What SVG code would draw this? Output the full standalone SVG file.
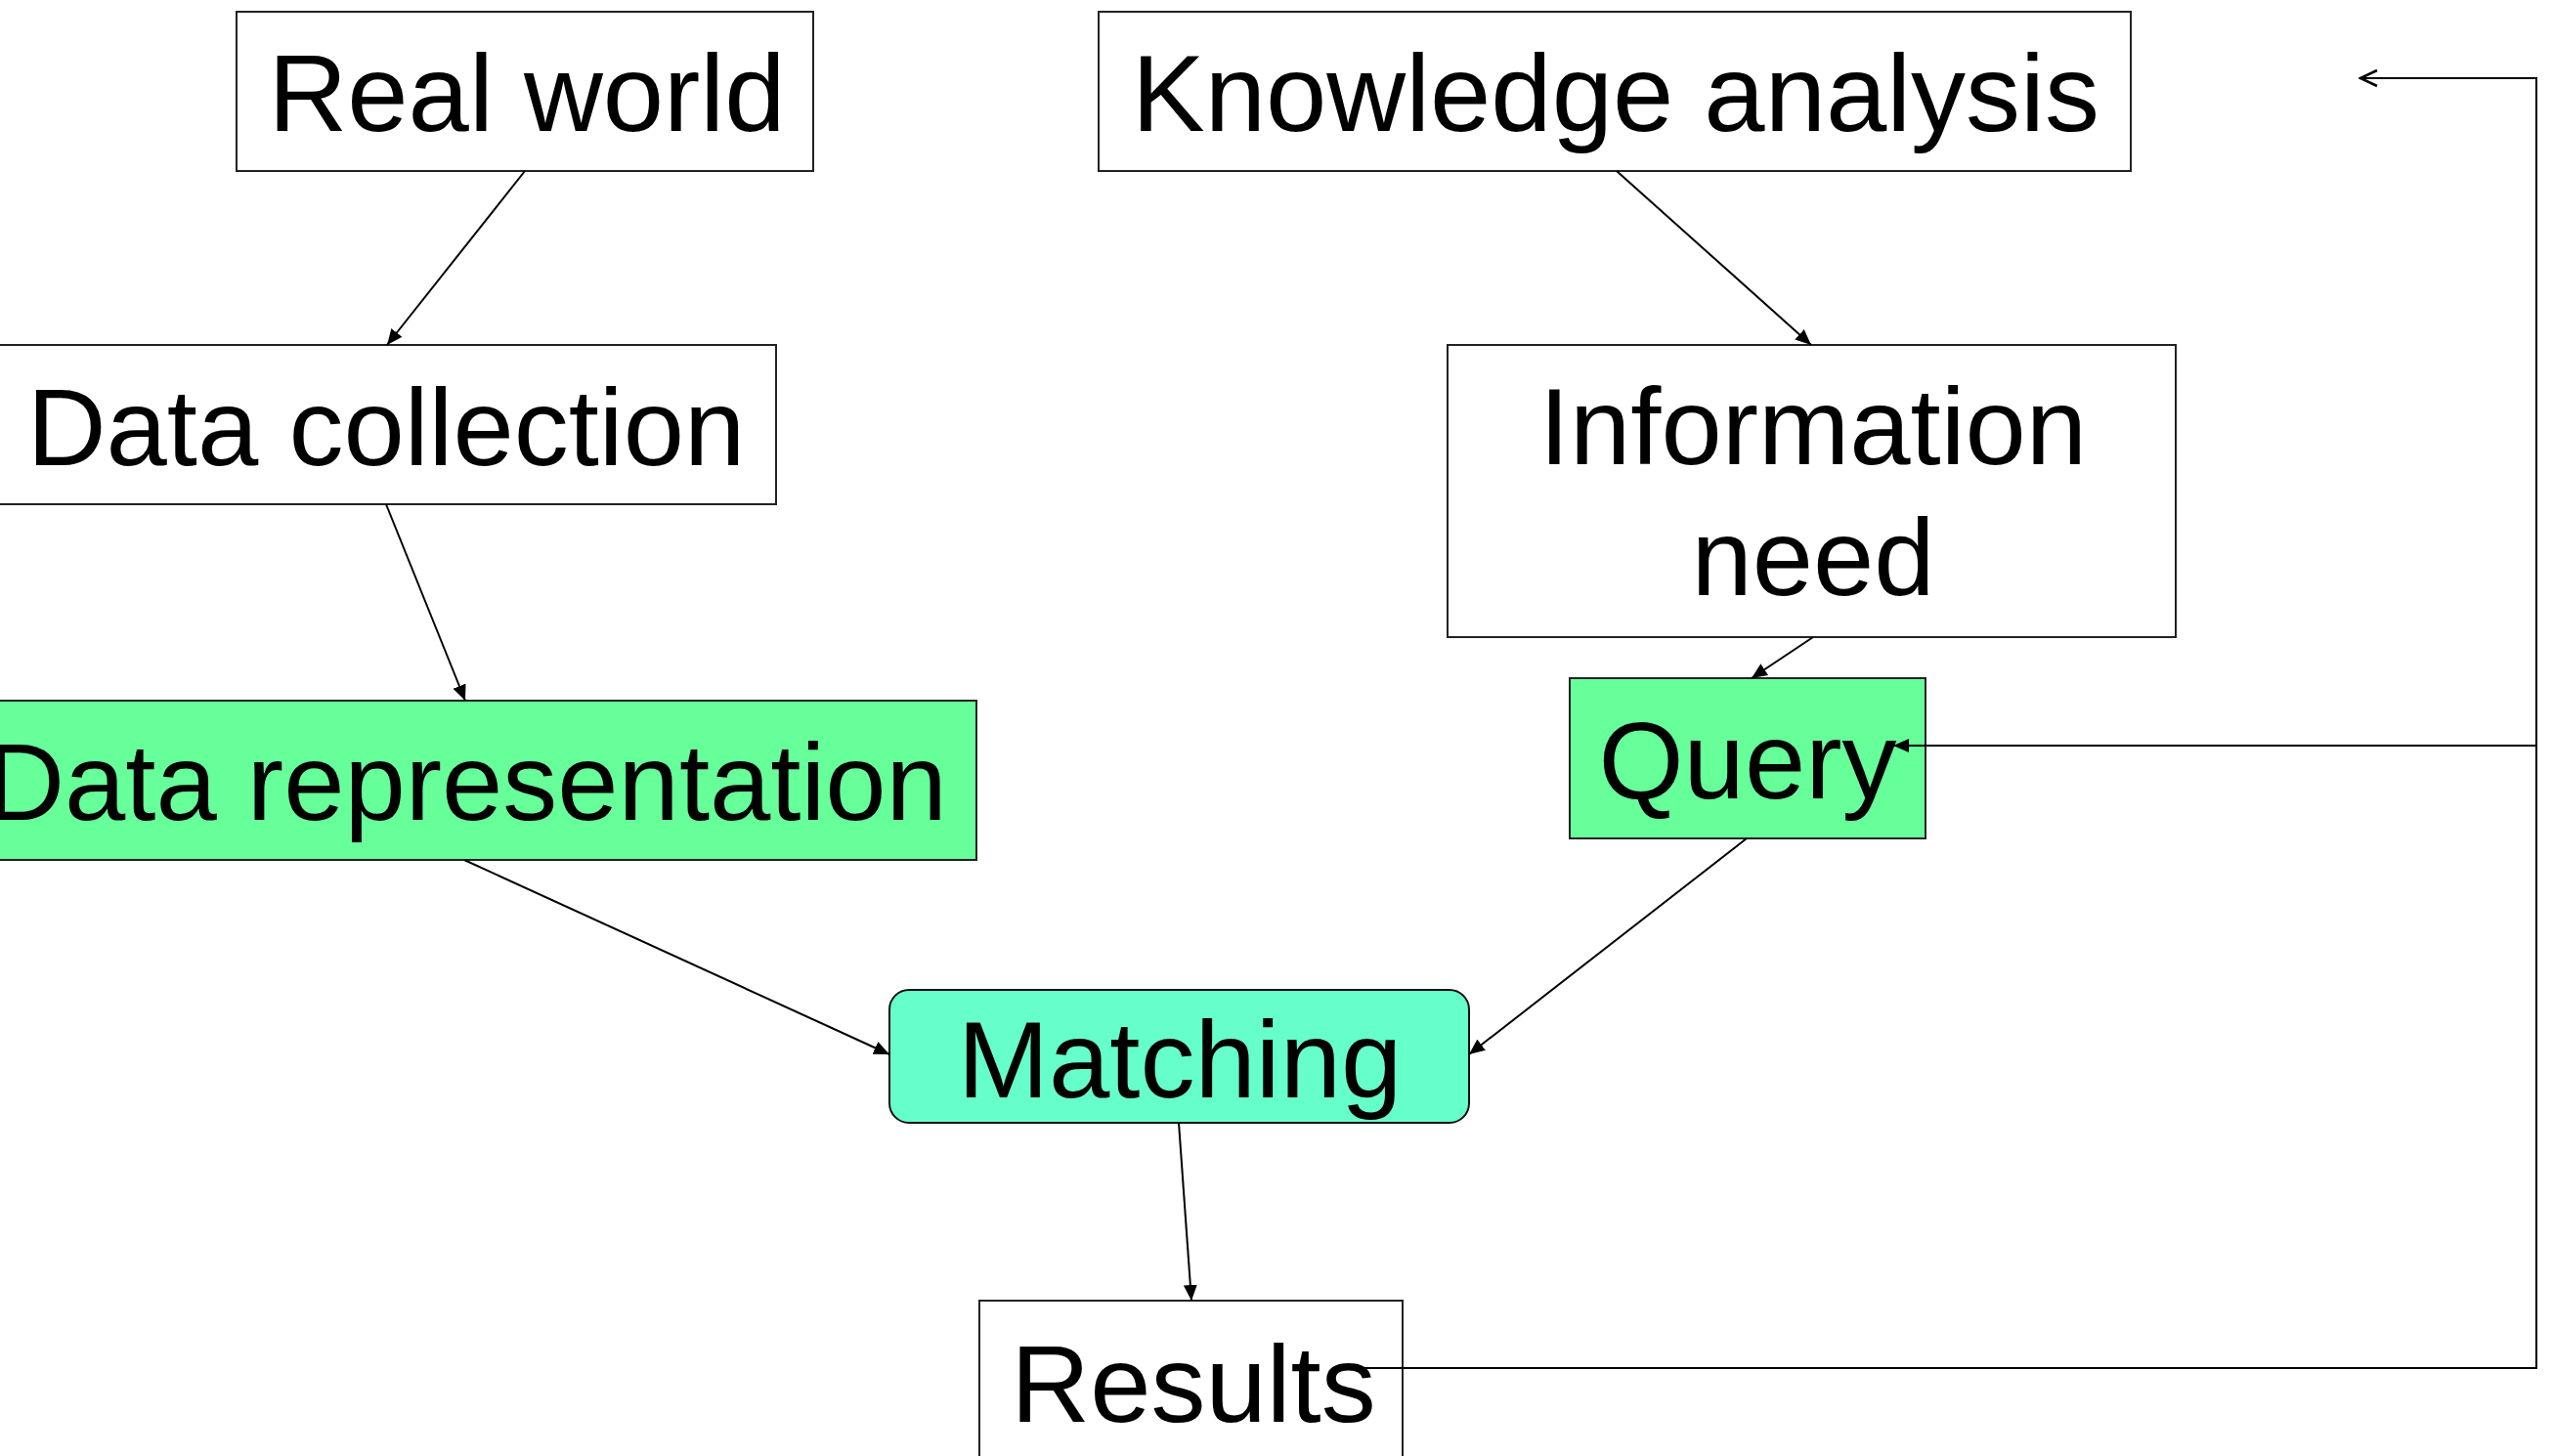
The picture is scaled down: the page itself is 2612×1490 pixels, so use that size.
<svg xmlns="http://www.w3.org/2000/svg" width="2612" height="1490" viewBox="0 0 2612 1490">
<style>
.box{fill:#ffffff;stroke:#222;stroke-width:2}
.green{fill:#66FF99;stroke:#222;stroke-width:2}
.teal{fill:#66FFCC;stroke:#111;stroke-width:2}
.lbl{font-family:"Liberation Sans",Arial,sans-serif;font-size:112px;fill:#000;text-anchor:middle}
.edge{stroke:#000;stroke-width:2;fill:none}
</style>
<defs>
<marker id="ah" markerWidth="16" markerHeight="14" refX="16" refY="7" orient="auto" markerUnits="userSpaceOnUse">
<path d="M0,0 L16,7 L0,14 Z" fill="#000"/>
</marker>
<marker id="open" markerWidth="20" markerHeight="20" refX="18" refY="10" orient="auto" markerUnits="userSpaceOnUse">
<path d="M1,2 L18,10 L1,18" fill="none" stroke="#000" stroke-width="2.5"/>
</marker>
</defs>
<rect width="2612" height="1490" fill="#ffffff"/>
<g id="real-world"><rect class="box" x="242" y="12" width="590" height="163"/><text class="lbl" x="539" y="134">Real world</text></g>
<g id="knowledge-analysis"><rect class="box" x="1124" y="12" width="1056" height="163"/><text class="lbl" x="1653" y="134">Knowledge analysis</text></g>
<g id="data-collection"><rect class="box" x="-5" y="353" width="799" height="163"/><text class="lbl" x="395" y="476">Data collection</text></g>
<g id="information-need"><rect class="box" x="1481" y="353" width="745" height="299"/><text class="lbl" x="1855" y="475">Information</text><text class="lbl" x="1855" y="609">need</text></g>
<g id="data-representation"><rect class="green" x="-45" y="717" width="1044" height="163"/><text class="lbl" x="477" y="839">Data representation</text></g>
<g id="query"><rect class="green" x="1606" y="694" width="364" height="164"/><text class="lbl" x="1788" y="817">Query</text></g>
<g id="matching"><rect class="teal" x="910" y="1013" width="593" height="136" rx="20" ry="20"/><text class="lbl" x="1207" y="1123">Matching</text></g>
<g id="results"><rect class="box" x="1002" y="1331" width="433" height="175"/><text class="lbl" x="1221" y="1455">Results</text></g>
<g id="connectors">
<line class="edge" x1="537" y1="175" x2="396" y2="353" marker-end="url(#ah)"/>
<line class="edge" x1="395" y1="516" x2="476" y2="717" marker-end="url(#ah)"/>
<line class="edge" x1="475" y1="880" x2="910" y2="1079" marker-end="url(#ah)"/>
<line class="edge" x1="1654" y1="175" x2="1853" y2="353" marker-end="url(#ah)"/>
<line class="edge" x1="1855" y1="652" x2="1792" y2="694" marker-end="url(#ah)"/>
<line class="edge" x1="1787" y1="858" x2="1503" y2="1079" marker-end="url(#ah)"/>
<line class="edge" x1="1206" y1="1149" x2="1219" y2="1331" marker-end="url(#ah)"/>
<line class="edge" x1="2595" y1="763" x2="1937" y2="763" marker-end="url(#ah)"/>
<polyline class="edge" points="1390,1400 2595,1400 2595,80 2415,80" marker-end="url(#open)"/>
</g>
</svg>
